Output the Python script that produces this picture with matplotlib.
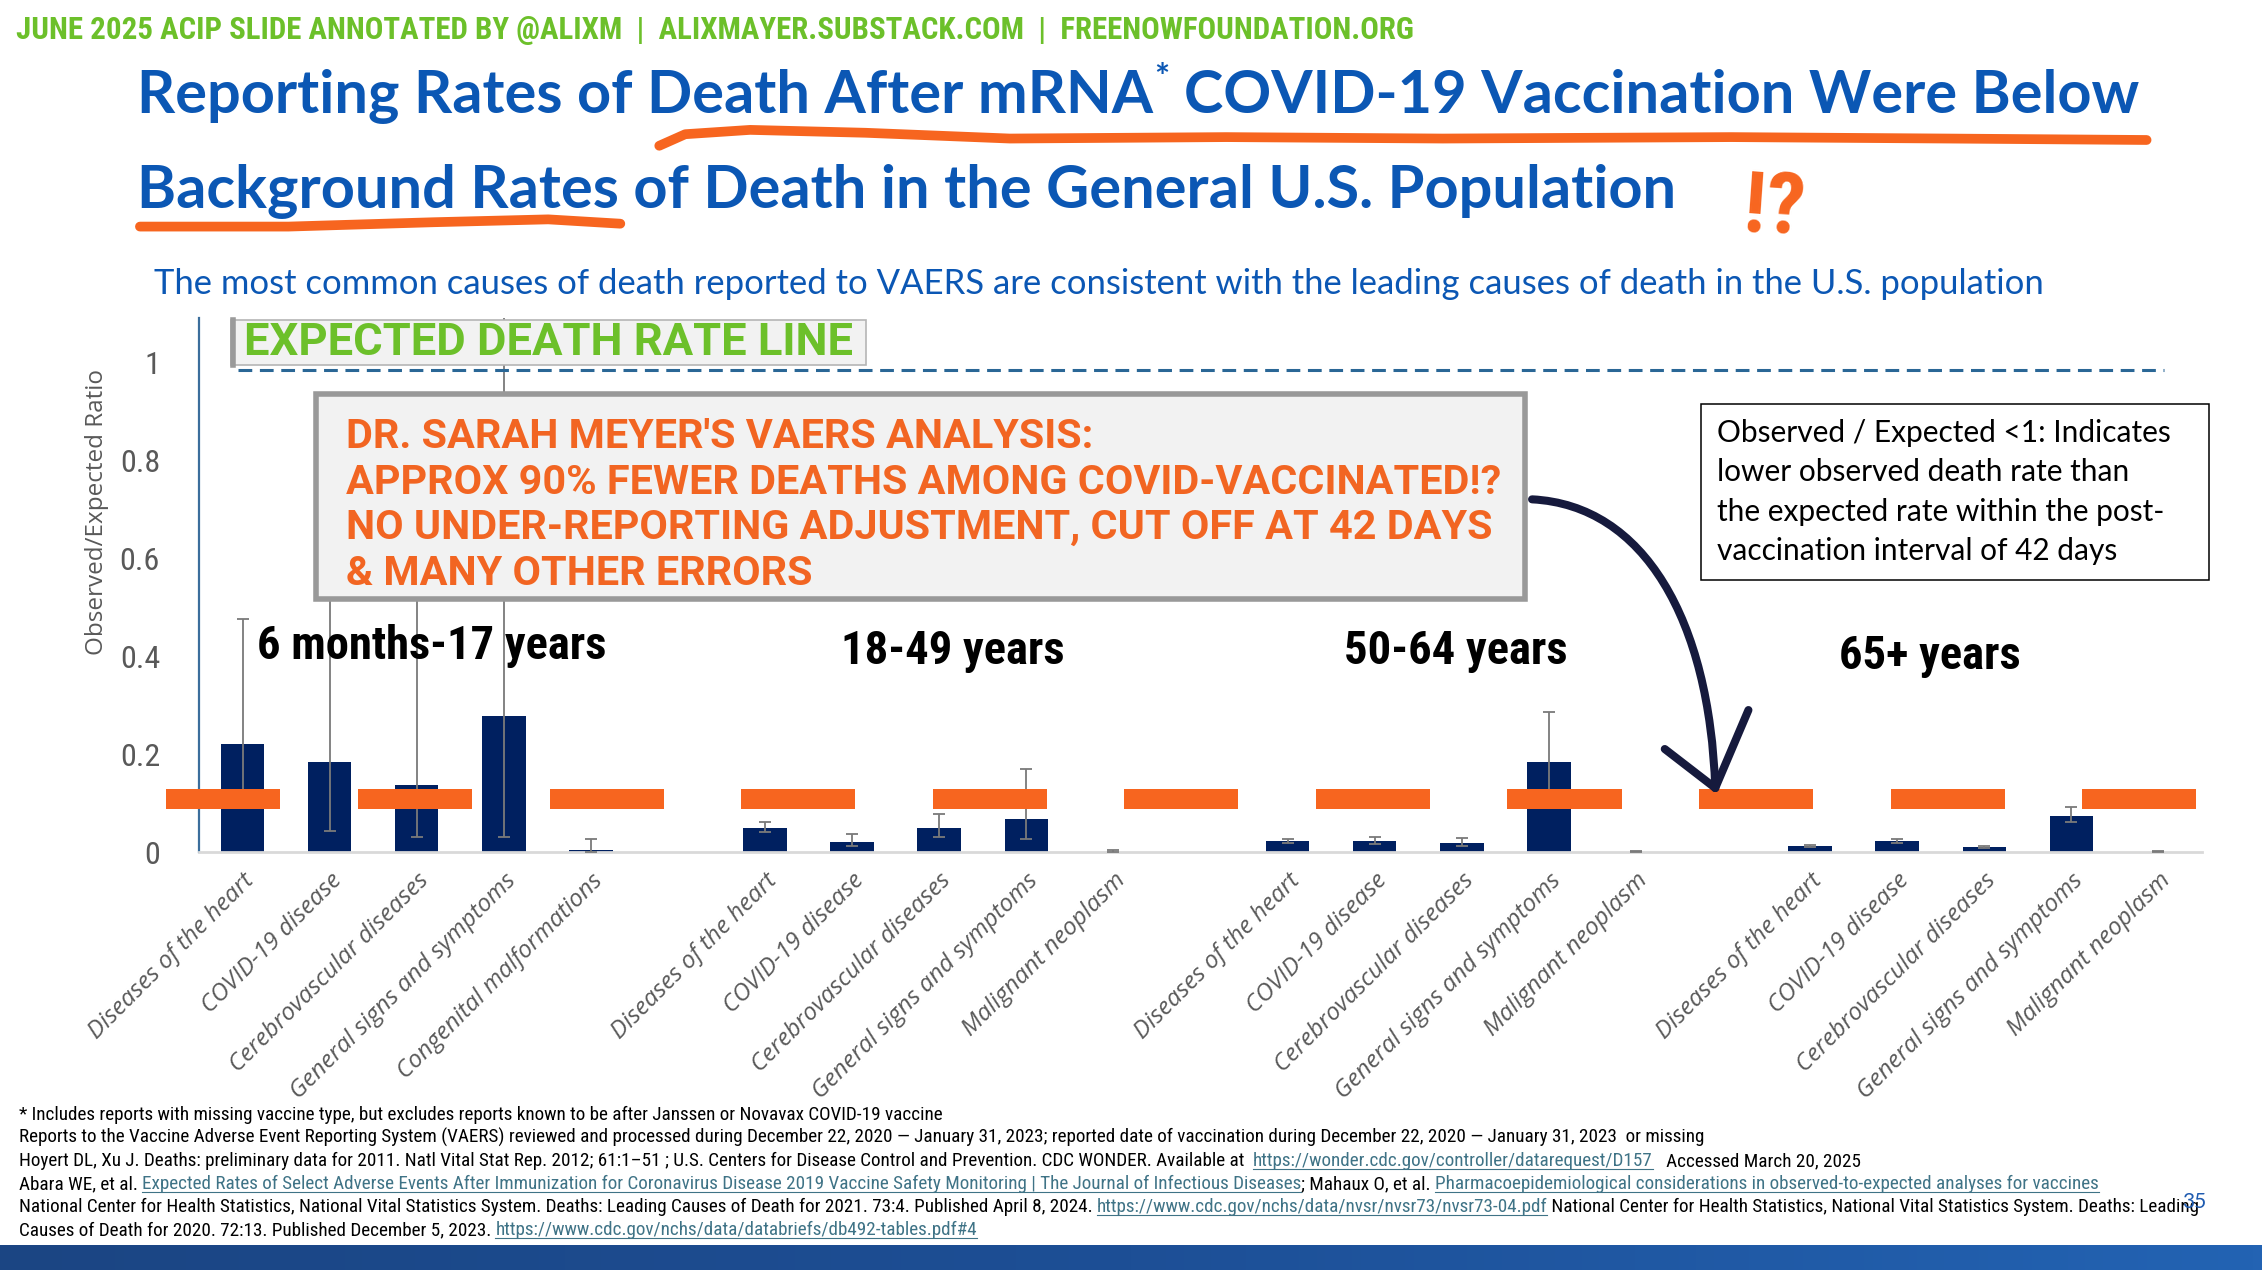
import matplotlib
matplotlib.use('Agg')
import matplotlib.pyplot as plt
import matplotlib.font_manager as fm
from matplotlib.font_manager import FontProperties
import numpy as np
from matplotlib.path import Path
from matplotlib.patches import PathPatch, Rectangle
from matplotlib.colors import LinearSegmentedColormap

# ---------------- data ----------------
group_names = ['6 months-17 years', '18-49 years', '50-64 years', '65+ years']
causes_young = ['Diseases of the heart', 'COVID-19 disease', 'Cerebrovascular diseases',
                'General signs and symptoms', 'Congenital malformations']
causes_adult = ['Diseases of the heart', 'COVID-19 disease', 'Cerebrovascular diseases',
                'General signs and symptoms', 'Malignant neoplasm']
ratio_6m_17 = [0.220, 0.184, 0.137, 0.277, 0.004]
ratio_18_49 = [0.050, 0.021, 0.049, 0.067, 0.001]
ratio_50_64 = [0.023, 0.023, 0.019, 0.183, 0.001]
ratio_65p = [0.012, 0.022, 0.010, 0.074, 0.001]
low_6m_17 = [0.105, 0.042, 0.031, 0.030, 0.000]
low_18_49 = [0.041, 0.013, 0.031, 0.026, 0.000]
low_50_64 = [0.019, 0.017, 0.012, 0.100, 0.000]
low_65p = [0.010, 0.018, 0.008, 0.061, 0.000]
high_6m_17 = [0.476, 0.750, 0.800, 1.300, 0.027]
high_18_49 = [0.061, 0.036, 0.078, 0.169, 0.004]
high_50_64 = [0.027, 0.030, 0.028, 0.286, 0.003]
high_65p = [0.014, 0.026, 0.013, 0.091, 0.003]
# annotator's orange "~10%" markers (category units)
orange_centers = [-0.22, 1.98, 4.18, 6.38, 8.58, 10.78, 12.98, 15.18, 17.38, 19.58, 21.78]
orange_low, orange_high = 0.088, 0.128
expected_level = 0.983
yticks = [0, 0.2, 0.4, 0.6, 0.8, 1]
ytick_labels = ['0', '0.2', '0.4', '0.6', '0.8', '1']

ratios = [ratio_6m_17, ratio_18_49, ratio_50_64, ratio_65p]
lows = [low_6m_17, low_18_49, low_50_64, low_65p]
highs = [high_6m_17, high_18_49, high_50_64, high_65p]
cause_lists = [causes_young, causes_adult, causes_adult, causes_adult]


# ---------------- fonts ----------------
def _wnum(w):
    if isinstance(w, (int, float)):
        return w
    return {'ultralight': 200, 'light': 300, 'normal': 400, 'regular': 400, 'book': 400,
            'medium': 500, 'roman': 400, 'semibold': 600, 'demibold': 600, 'demi': 600,
            'bold': 700, 'heavy': 800, 'extra bold': 800, 'black': 900}.get(str(w).lower(), 400)


def _is_cond(f):
    st = f.stretch
    if 'Narrow' in f.name or 'Condensed' in f.name:
        return True
    if isinstance(st, str):
        return 'condensed' in st.lower()
    return isinstance(st, (int, float)) and st < 500


def pick_narrow(bold):
    best, bs = None, 99
    for f in fm.fontManager.ttflist:
        if f.style != 'normal' or not _is_cond(f):
            continue
        w = _wnum(f.weight)
        if bold and not (650 <= w <= 800):
            continue
        if not bold and not (350 <= w <= 500):
            continue
        nm = f.name
        sc = 0 if 'Liberation' in nm else 1 if 'Roboto' in nm else 2 if 'Noto' in nm else 3 if 'Open' in nm else 4
        if sc < bs:
            best, bs = f, sc
    if best is None:
        return FontProperties(family=['Roboto', 'DejaVu Sans'], weight='bold' if bold else 'normal')
    return FontProperties(fname=best.fname)


NAR = pick_narrow(False)
NARB = pick_narrow(True)
COMIC = FontProperties(family=['Roboto', 'DejaVu Sans'], weight='bold')


def FP(base, size):
    p = base.copy()
    p.set_size(size)
    return p


HUMAN = ['Lato', 'DejaVu Sans']
BLUE = '#0b57b4'
ORANGE = '#f7651f'
GREEN = '#6cc02a'
W, H = 2262, 1270
S = W / 1568.0

fig = plt.figure(figsize=(W / 100, H / 100), dpi=100)
fig.patch.set_facecolor('white')
r = fig.canvas.get_renderer()


def measure(s, **kw):
    t = fig.text(0, 0, s, **kw)
    w = t.get_window_extent(renderer=r).width
    t.remove()
    return w / S


def fit_fp(s, target, base):
    return 20.0 * target / measure(s, fontproperties=FP(base, 20))


def fit_kw(s, target, **kw):
    return 20.0 * target / measure(s, fontsize=20, **kw)


# ---------------- chart ----------------
ax = fig.add_axes([199 / W, 418 / H, 2003 / W, 534 / H])
ax.set_xlim(-0.5, 22.5)
ax.set_ylim(0, 1.09)
tick_pos, tick_lab = [], []
for g in range(4):
    x = np.arange(5) + 6 * g
    v = np.array(ratios[g]); lo = np.array(lows[g]); hi = np.array(highs[g])
    ax.bar(x, v, width=0.5, color='#002060', zorder=2)
    ax.errorbar(x, v, yerr=[v - lo, hi - v], fmt='none', ecolor='#7a7a7a',
                elinewidth=1.3, capsize=4.5, capthick=1.3, zorder=3)
    tick_pos += list(x); tick_lab += cause_lists[g]
ax.bar(orange_centers, orange_high - orange_low, bottom=orange_low, width=1.31,
       color=ORANGE, zorder=5, clip_on=False)
ax.plot([-0.05, 22.06], [expected_level] * 2, ls=(0, (4.5, 2.5)), color='#2a6796',
        lw=2.2, zorder=4)
ax.set_xticks(tick_pos)
ax.set_xticklabels(tick_lab, rotation=45, ha='right', rotation_mode='anchor',
                   fontsize=17.5, color='#595959', style='italic',
                   family=['Open Sans', 'DejaVu Sans'])
yfs = fit_fp('0.8', 28, NAR)
ax.set_yticks(yticks)
ax.set_yticklabels(ytick_labels, fontproperties=FP(NAR, yfs), color='#595959')
ax.tick_params(axis='both', length=0)
ax.tick_params(axis='y', pad=28)
ax.tick_params(axis='x', pad=12)
for s in ['top', 'right']:
    ax.spines[s].set_visible(False)
ax.spines['left'].set_color('#3b6e9c'); ax.spines['left'].set_linewidth(1.6)
ax.spines['bottom'].set_color('#d9d9d9'); ax.spines['bottom'].set_linewidth(2)
ax.set_ylabel('Observed/Expected Ratio', fontsize=17.5, color='#595959',
              family=['Open Sans', 'DejaVu Sans'])
ax.yaxis.set_label_coords(-0.045, 0.637)

gfs = fit_fp('6 months-17 years', 242, NARB)
for name, xc, yc in zip(group_names, [2.17, 8.15, 13.93, 19.38], [0.42, 0.41, 0.41, 0.40]):
    ax.text(xc, yc, name, ha='center', va='center', fontproperties=FP(NARB, gfs),
            color='black', zorder=10)

# ---------------- overlay (slide) ----------------
ov = fig.add_axes([0, 0, 1, 1], zorder=5)
ov.set_xlim(0, 1568); ov.set_ylim(880, 0); ov.axis('off'); ov.patch.set_alpha(0)

# header
hdr = 'JUNE 2025 ACIP SLIDE ANNOTATED BY @ALIXM  |  ALIXMAYER.SUBSTACK.COM  |  FREENOWFOUNDATION.ORG'
hfs = fit_fp(hdr, 968, NARB)
ov.text(11, 21, hdr, fontproperties=FP(NARB, hfs), color=GREEN, ha='left', va='center')

# title
tkw = dict(family=HUMAN, fontweight='bold')
tfs = fit_kw('Reporting Rates of Death After mRNA* COVID-19 Vaccination Were Below', 1393, **tkw)
seg1 = 'Reporting Rates of Death After mRNA'
seg3 = 'COVID-19 Vaccination Were Below'
x0 = 95
ov.text(x0, 78, seg1, fontsize=tfs, color=BLUE, ha='left', va='baseline', **tkw)
xs = x0 + measure(seg1, fontsize=tfs, **tkw) + 1
ov.text(xs, 62, '*', fontsize=tfs * 0.6, color=BLUE, ha='left', va='baseline', **tkw)
xs += measure('*', fontsize=tfs * 0.6, **tkw)
sp = measure('a a', fontsize=tfs, **tkw) - measure('aa', fontsize=tfs, **tkw)
ov.text(xs + sp, 78, seg3, fontsize=tfs, color=BLUE, ha='left', va='baseline', **tkw)
ov.text(x0, 144, 'Background Rates of Death in the General U.S. Population', fontsize=tfs,
        color=BLUE, ha='left', va='baseline', **tkw)

# hand-drawn underlines and "!?"
ux1 = [457, 475, 520, 600, 700, 850, 1000, 1200, 1350, 1488]
uy1 = [101, 93, 90, 92, 96, 95, 96, 95, 96, 97]
ov.plot(ux1, uy1, color=ORANGE, lw=7, solid_capstyle='round', solid_joinstyle='round')
ux2 = [97, 200, 300, 380, 430]
uy2 = [157, 157, 154, 152, 155]
ov.plot(ux2, uy2, color=ORANGE, lw=7, solid_capstyle='round', solid_joinstyle='round')
ov.text(1230, 145, '!?', fontproperties=FP(NARB, 62), color=ORANGE,
        ha='center', va='center', rotation=-4)

# subtitle
sub = ('The most common causes of death reported to VAERS are consistent with the '
       'leading causes of death in the U.S. population')
sfs = fit_kw(sub, 1311, family=HUMAN)
ov.text(107, 204, sub, fontsize=sfs, family=HUMAN, color=BLUE, ha='left', va='baseline')

# expected death rate label
ov.add_patch(Rectangle((160, 222), 440, 31, fc='#f2f2f2', ec='#b5b5b5', lw=1.2))
ov.plot([161.5, 161.5], [222, 253], color='#9a9a9a', lw=4)
efs = fit_fp('EXPECTED DEATH RATE LINE', 422, COMIC)
ov.text(169, 238, 'EXPECTED DEATH RATE LINE', fontproperties=FP(COMIC, efs),
        color=GREEN, ha='left', va='center')

# big annotation box
ov.add_patch(Rectangle((219, 273), 838, 142, fc='#f2f2f2', ec='#999999', lw=4))
big_lines = ["DR. SARAH MEYER'S VAERS ANALYSIS:",
             'APPROX 90% FEWER DEATHS AMONG COVID-VACCINATED!?',
             'NO UNDER-REPORTING ADJUSTMENT, CUT OFF AT 42 DAYS',
             '& MANY OTHER ERRORS']
bfs = fit_fp(big_lines[1], 800, COMIC)
for ln, yy in zip(big_lines, [303, 335, 366, 398]):
    ov.text(240, yy, ln, fontproperties=FP(COMIC, bfs), color='#f26522',
            ha='left', va='center')

# right explanation box
ov.add_patch(Rectangle((1179, 280), 352, 122, fc='white', ec='black', lw=1.1))
rlines = ['Observed / Expected <1: Indicates', 'lower observed death rate than',
          'the expected rate within the post-', 'vaccination interval of 42 days']
rfs = fit_kw(rlines[0], 316, family=HUMAN)
for ln, yy in zip(rlines, [300, 327, 355, 382]):
    ov.text(1190, yy, ln, fontsize=rfs, family=HUMAN, color='black', ha='left', va='center')

# curved arrow
verts = [(1062, 346), (1140, 350), (1185, 430), (1189, 546)]
ov.add_patch(PathPatch(Path(verts, [Path.MOVETO, Path.CURVE4, Path.CURVE4, Path.CURVE4]),
                       fill=False, ec='#161a3d', lw=5.8, capstyle='round'))
ov.plot([1154, 1189], [519, 546], color='#161a3d', lw=5.8, solid_capstyle='round')
ov.plot([1212, 1189], [492, 546], color='#161a3d', lw=5.8, solid_capstyle='round')

# footer
LINK = '#3f7386'
foot = [
    [('* Includes reports with missing vaccine type, but excludes reports known to be after Janssen or Novavax COVID-19 vaccine', 'black', False)],
    [('Reports to the Vaccine Adverse Event Reporting System (VAERS) reviewed and processed during December 22, 2020 \u2014 January 31, 2023; reported date of vaccination during December 22, 2020 \u2014 January 31, 2023  or missing', 'black', False)],
    [('Hoyert DL, Xu J. Deaths: preliminary data for 2011. Natl Vital Stat Rep. 2012; 61:1\u201351 ; U.S. Centers for Disease Control and Prevention. CDC WONDER. Available at  ', 'black', False),
     ('https://wonder.cdc.gov/controller/datarequest/D157', LINK, True),
     ('   Accessed March 20, 2025', 'black', False)],
    [('Abara WE, et al. ', 'black', False),
     ('Expected Rates of Select Adverse Events After Immunization for Coronavirus Disease 2019 Vaccine Safety Monitoring | The Journal of Infectious Diseases', LINK, True),
     ('; Mahaux O, et al. ', 'black', False),
     ('Pharmacoepidemiological considerations in observed-to-expected analyses for vaccines', LINK, True)],
    [('National Center for Health Statistics, National Vital Statistics System. Deaths: Leading Causes of Death for 2021. 73:4. Published April 8, 2024. ', 'black', False),
     ('https://www.cdc.gov/nchs/data/nvsr/nvsr73/nvsr73-04.pdf', LINK, True),
     (' National Center for Health Statistics, National Vital Statistics System. Deaths: Leading', 'black', False)],
    [('Causes of Death for 2020. 72:13. Published December 5, 2023. ', 'black', False),
     ('https://www.cdc.gov/nchs/data/databriefs/db492-tables.pdf#4', LINK, True)],
]
ffs = fit_fp(''.join(t for t, _, _ in foot[4]), 1515, NAR)
FF = FP(NAR, ffs)
bar_w = measure('|', fontproperties=FF)
for line, yb in zip(foot, [776, 792, 808, 824, 840, 856]):
    prefix = ''
    for txt, col, ul in line:
        xs = 13 + (measure(prefix + '|', fontproperties=FF) - bar_w if prefix else 0)
        ov.text(xs, yb, txt, fontproperties=FF, color=col, ha='left', va='baseline')
        if ul:
            w = measure(txt, fontproperties=FF)
            ov.plot([xs, xs + w], [yb + 2, yb + 2], color=col, lw=0.8)
        prefix += txt
ov.text(1521, 833, '35', fontsize=15, family=HUMAN, color='#1f5bb0', ha='center', va='center')

# bottom band gradient
grad = np.linspace(0, 1, 256).reshape(1, -1)
cm = LinearSegmentedColormap.from_list('band', ['#1b4583', '#1d4f96', '#2363b3'])
ov.imshow(grad, cmap=cm, extent=(0, 1568, 880, 863), aspect='auto', zorder=1)
ov.set_xlim(0, 1568); ov.set_ylim(880, 0)

fig.savefig('out.png', dpi=100, facecolor='white')
